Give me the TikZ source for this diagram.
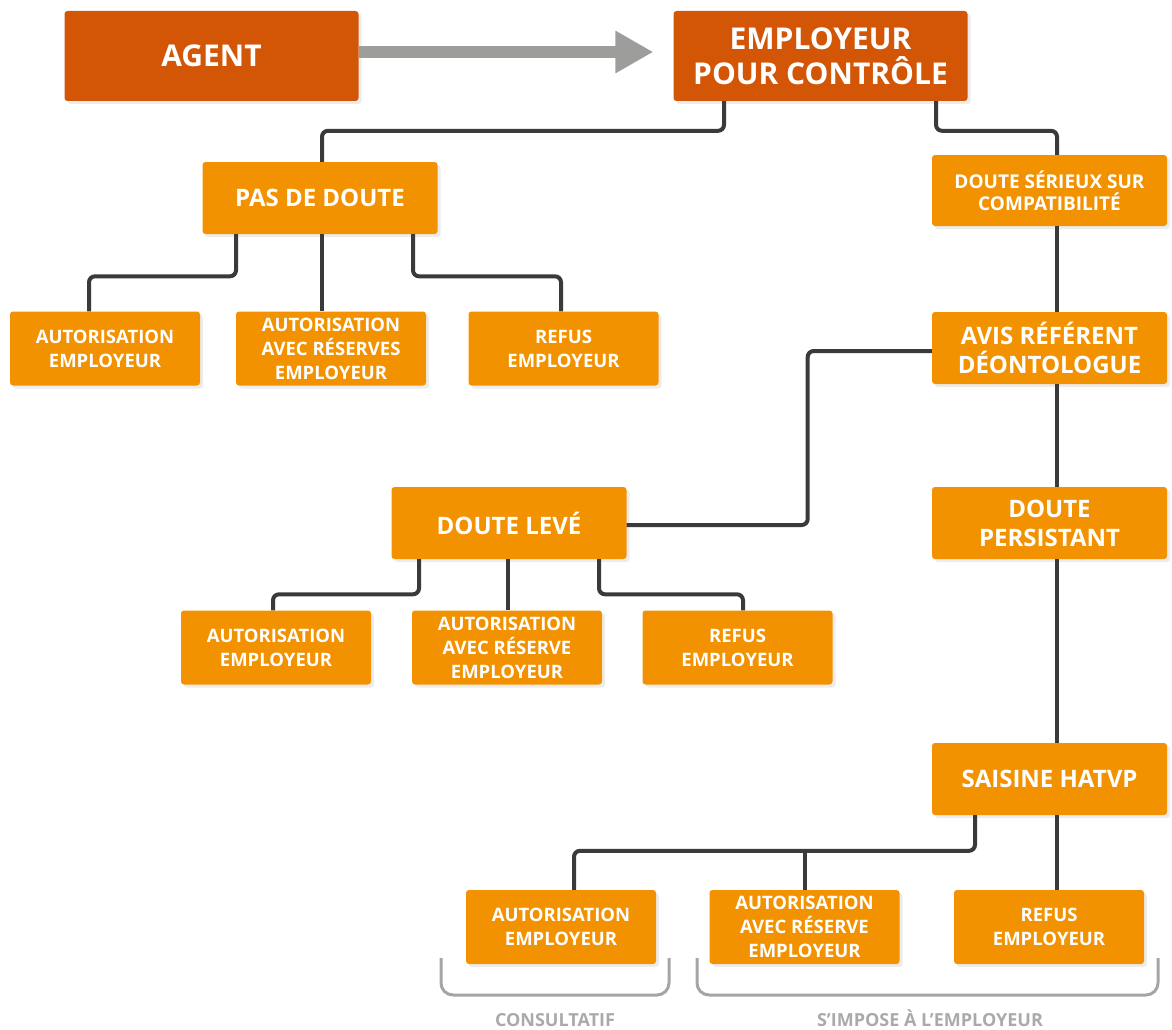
\documentclass[tikz,border=0pt]{standalone}
\usepackage{fontspec}
\setmainfont{Open Sans}
\usetikzlibrary{arrows.meta,shadows}
\definecolor{darkor}{RGB}{211,85,6}
\definecolor{lightor}{RGB}{243,146,0}
\definecolor{arrowgray}{RGB}{157,157,156}
\definecolor{connc}{RGB}{58,58,58}
\definecolor{brackgray}{RGB}{165,165,165}
\definecolor{labgray}{RGB}{170,170,170}
\begin{document}
\begin{tikzpicture}[x=1pt,y=-1pt,
  boxbase/.style={rectangle, rounded corners=3pt, text=white, align=center, inner sep=0pt,
    drop shadow={fill=black!12, shadow xshift=3pt, shadow yshift=-3pt, opacity=0.6}},
  darkbox/.style={boxbase, fill=darkor, minimum width=294pt, minimum height=90pt,
    font=\fontsize{30}{35}\selectfont\bfseries},
  midbox/.style={boxbase, fill=lightor, minimum width=235pt, minimum height=72pt,
    font=\fontsize{24}{29}\selectfont\bfseries},
  serbox/.style={boxbase, fill=lightor, minimum width=235pt, minimum height=71pt,
    font=\fontsize{19}{22}\selectfont\bfseries},
  smallbox/.style={boxbase, fill=lightor, minimum width=190pt, minimum height=74pt,
    font=\fontsize{18.5}{24}\selectfont\bfseries},
  conn/.style={draw=connc, line width=4pt, rounded corners=6pt},
  brack/.style={draw=brackgray, line width=3pt, rounded corners=12pt},
  lab/.style={text=labgray, anchor=base, inner sep=0pt, font=\fontsize{18}{20}\selectfont\bfseries}
]
\useasboundingbox (0,0) rectangle (1172,1030);

% nodes
\node[darkbox] (agent) at (211.5,56) {AGENT};
\node[darkbox] (emp) at (820.5,56) {EMPLOYEUR\\POUR CONTRÔLE};
\node[midbox] (pas) at (320,198) {PAS DE DOUTE};
\node[serbox] (ser) at (1049.5,190.5) {DOUTE SÉRIEUX SUR\\COMPATIBILITÉ};
\node[smallbox] (a1) at (105,348.5) {AUTORISATION\\EMPLOYEUR};
\node[smallbox] (a2) at (331,348.5) {AUTORISATION\\AVEC RÉSERVES\\EMPLOYEUR};
\node[smallbox] (a3) at (563.5,348.5) {REFUS\\EMPLOYEUR};
\node[midbox] (avis) at (1049.5,348) {AVIS RÉFÉRENT\\DÉONTOLOGUE};
\node[midbox] (leve) at (509,523) {DOUTE LEVÉ};
\node[midbox] (pers) at (1049.5,523) {DOUTE\\PERSISTANT};
\node[smallbox] (b1) at (276,647.5) {AUTORISATION\\EMPLOYEUR};
\node[smallbox] (b2) at (507,647.5) {AUTORISATION\\AVEC RÉSERVE\\EMPLOYEUR};
\node[smallbox] (b3) at (737.5,647.5) {REFUS\\EMPLOYEUR};
\node[midbox] (hatvp) at (1049.5,779) {SAISINE HATVP};
\node[smallbox] (c1) at (561,927) {AUTORISATION\\EMPLOYEUR};
\node[smallbox] (c2) at (804.5,927) {AUTORISATION\\AVEC RÉSERVE\\EMPLOYEUR};
\node[smallbox] (c3) at (1049,927) {REFUS\\EMPLOYEUR};

% big arrow
\draw[arrowgray, line width=12pt, -{Triangle[length=38pt,width=40pt]}]
  ([yshift=4pt]agent.east) -- ([xshift=-20pt,yshift=4pt]emp.west);

% connectors
\draw[conn] ([xshift=-96.5pt]emp.south) |- ([xshift=2pt,yshift=31pt]pas.north) -- ([xshift=2pt]pas.north);
\draw[conn] ([xshift=115.5pt]emp.south) |- ([xshift=7.5pt,yshift=24pt]ser.north) -- ([xshift=7.5pt]ser.north);
\draw[conn] ([xshift=7.5pt]ser.south) -- ([xshift=7.5pt]avis.north);
\draw[conn] ([yshift=-3pt]avis.west) -| ([xshift=181pt,yshift=-2pt]leve.east) -- ([yshift=-2pt]leve.east);
\draw[conn] ([xshift=7.5pt]avis.south) -- ([xshift=7.5pt]pers.north);
\draw[conn] ([xshift=7.5pt]pers.south) -- ([xshift=7.5pt]hatvp.north);

\draw[conn] ([xshift=-84pt]pas.south) |- ([xshift=-16pt,yshift=35pt]a1.north) -- ([xshift=-16pt]a1.north);
\draw[conn] ([xshift=2pt]pas.south) -- ([xshift=-9pt]a2.north);
\draw[conn] ([xshift=93pt]pas.south) |- ([xshift=-2.5pt,yshift=35pt]a3.north) -- ([xshift=-2.5pt]a3.north);

\draw[conn] ([xshift=-90pt]leve.south) |- ([xshift=-3pt,yshift=16pt]b1.north) -- ([xshift=-3pt]b1.north);
\draw[conn] ([xshift=-1pt]leve.south) -- ([xshift=1pt]b2.north);
\draw[conn] ([xshift=90pt]leve.south) |- ([xshift=5.5pt,yshift=16pt]b3.north) -- ([xshift=5.5pt]b3.north);

\draw[conn] ([xshift=-74.5pt]hatvp.south) |- ([xshift=13pt,yshift=39pt]c1.north) -- ([xshift=13pt]c1.north);
\draw[conn] (c2.north) -- ([yshift=39pt]c2.north);
\draw[conn] ([xshift=7.5pt]hatvp.south) -- ([xshift=8pt]c3.north);

% brackets
\coordinate (k1a) at (441,958);
\coordinate (k1b) at (669,958);
\coordinate (k2a) at (697,958);
\coordinate (k2b) at (1158,958);
\draw[brack] (k1a) -- ++(0,37) -| (k1b);
\draw[brack] (k2a) -- ++(0,37) -| (k2b);

\node[lab] (lcons) at (555,1026) {CONSULTATIF};
\node[lab] (limp) at (930,1026) {S’IMPOSE À L’EMPLOYEUR};
\end{tikzpicture}
\end{document}
